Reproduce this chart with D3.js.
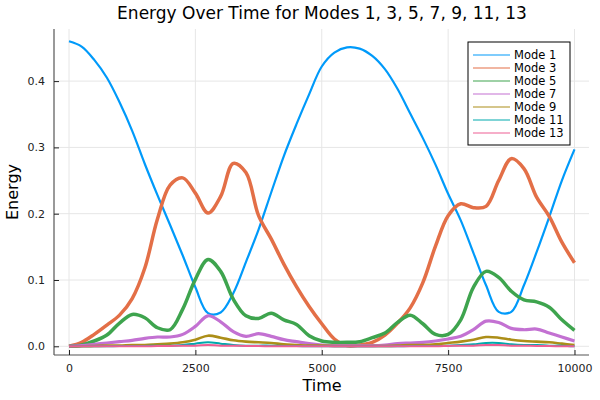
<!DOCTYPE html>
<html>
<head>
<meta charset="utf-8">
<script src="https://cdn.jsdelivr.net/npm/d3@7"></script>
<style>
  body { margin: 0; background: #fff; }
  svg { font-family: "DejaVu Sans", sans-serif; }
</style>
</head>
<body>
<script>
var width = 600,
    height = 400;

// time samples every 250
var times = d3.range(0, 10001, 250);

var mode1 = [0.460, 0.452, 0.432, 0.405, 0.368, 0.325, 0.275, 0.228, 0.183, 0.137,
             0.089, 0.050, 0.051, 0.080, 0.127, 0.176, 0.232, 0.287, 0.335, 0.380,
             0.422, 0.443, 0.451, 0.449, 0.438, 0.418, 0.388, 0.351, 0.314, 0.274,
             0.230, 0.190, 0.141, 0.092, 0.052, 0.052, 0.092, 0.142, 0.195, 0.250, 0.297];
var mode3 = [0.000, 0.006, 0.018, 0.032, 0.047, 0.072, 0.118, 0.192, 0.243, 0.254,
             0.231, 0.201, 0.226, 0.276, 0.262, 0.197, 0.162, 0.124, 0.090, 0.060,
             0.034, 0.011, 0.001, 0.002, 0.006, 0.017, 0.035, 0.058, 0.096, 0.151,
             0.197, 0.215, 0.209, 0.211, 0.250, 0.283, 0.268, 0.225, 0.196, 0.157, 0.126];
var mode5 = [0.000, 0.002, 0.008, 0.017, 0.035, 0.048, 0.043, 0.028, 0.025, 0.056,
             0.101, 0.131, 0.113, 0.071, 0.046, 0.042, 0.050, 0.040, 0.033, 0.016,
             0.008, 0.006, 0.006, 0.007, 0.013, 0.020, 0.036, 0.047, 0.034, 0.018,
             0.018, 0.040, 0.089, 0.113, 0.104, 0.083, 0.070, 0.067, 0.059, 0.040, 0.024];
var mode7 = [0.000, 0.001, 0.003, 0.005, 0.007, 0.009, 0.012, 0.014, 0.014, 0.018,
             0.030, 0.046, 0.037, 0.022, 0.015, 0.019, 0.015, 0.010, 0.007, 0.004,
             0.002, 0.001, 0.001, 0.001, 0.001, 0.002, 0.004, 0.005, 0.006, 0.008,
             0.011, 0.015, 0.025, 0.038, 0.036, 0.027, 0.025, 0.026, 0.020, 0.014, 0.008];
var mode9 = [0.000, 0.000, 0.0005, 0.001, 0.001, 0.002, 0.002, 0.003, 0.004, 0.006,
             0.010, 0.016, 0.013, 0.009, 0.007, 0.006, 0.005, 0.003, 0.002, 0.001,
             0.001, 0.0005, 0.0005, 0.0005, 0.0005, 0.0005, 0.001, 0.002, 0.002, 0.003,
             0.005, 0.007, 0.010, 0.014, 0.013, 0.010, 0.008, 0.007, 0.006, 0.004, 0.002];
var mode11 = [0.000, 0.000, 0.000, 0.000, 0.0005, 0.0005, 0.0005, 0.001, 0.001, 0.002,
              0.004, 0.006, 0.004, 0.002, 0.001, 0.001, 0.001, 0.0005, 0.0005, 0.000,
              0.000, 0.000, 0.000, 0.000, 0.000, 0.000, 0.000, 0.0005, 0.0005, 0.0005,
              0.001, 0.002, 0.003, 0.005, 0.005, 0.003, 0.002, 0.002, 0.001, 0.001, 0.000];
var mode13 = [0.000, 0.000, 0.000, 0.000, 0.000, 0.000, 0.000, 0.0005, 0.0005, 0.001,
              0.001, 0.002, 0.001, 0.001, 0.0005, 0.0005, 0.000, 0.000, 0.000, 0.000,
              0.000, 0.000, 0.000, 0.000, 0.000, 0.000, 0.000, 0.000, 0.000, 0.000,
              0.0005, 0.001, 0.001, 0.002, 0.002, 0.001, 0.001, 0.0005, 0.0005, 0.000, 0.000];

var seriesNames = ["Mode 1", "Mode 3", "Mode 5", "Mode 7", "Mode 9", "Mode 11", "Mode 13"];
var seriesValues = [mode1, mode3, mode5, mode7, mode9, mode11, mode13];
var colors = ["#009AFA", "#E36F47", "#3EA44E", "#C371D2", "#AC8E18", "#00A9AD", "#ED5E93"];
var widths = [2.2, 3.5, 3.5, 3.2, 2.6, 2, 2];

var xTicks = [0, 2500, 5000, 7500, 10000];
var yTicks = [0.0, 0.1, 0.2, 0.3, 0.4];

var plot = {left: 54, right: 589, top: 29, bottom: 355};

var x = d3.scaleLinear()
    .domain([0, 10000])
    .range([69, 574.5]);

var y = d3.scaleLinear()
    .domain([0, 0.4])
    .range([346.3, 81.1]);

var svg = d3.select("body").append("svg")
    .attr("width", width)
    .attr("height", height);

svg.append("defs").append("clipPath")
    .attr("id", "clip")
  .append("rect")
    .attr("x", plot.left)
    .attr("y", plot.top)
    .attr("width", plot.right - plot.left)
    .attr("height", plot.bottom - plot.top);

// grid
svg.append("g").selectAll("line")
    .data(xTicks)
    .enter().append("line")
    .attr("x1", function(d) { return x(d); })
    .attr("x2", function(d) { return x(d); })
    .attr("y1", plot.top)
    .attr("y2", plot.bottom)
    .style("stroke", "#e6e6e6");

svg.append("g").selectAll("line")
    .data(yTicks)
    .enter().append("line")
    .attr("x1", plot.left)
    .attr("x2", plot.right)
    .attr("y1", function(d) { return y(d); })
    .attr("y2", function(d) { return y(d); })
    .style("stroke", "#e6e6e6");

// lines
var line = d3.line()
    .x(function(d, i) { return x(times[i]); })
    .y(function(d) { return y(d); })
    .curve(d3.curveCatmullRom.alpha(0.5));

svg.append("g")
    .attr("clip-path", "url(#clip)")
    .selectAll("path")
    .data(seriesValues)
    .enter().append("path")
    .attr("d", line)
    .style("fill", "none")
    .style("stroke", function(d, i) { return colors[i]; })
    .style("stroke-width", function(d, i) { return widths[i]; })
    .style("stroke-linejoin", "round");

// axes (ticks point inward)
var xAxis = svg.append("g")
    .attr("transform", "translate(0," + plot.bottom + ")")
    .call(d3.axisBottom(x).tickValues(xTicks).tickFormat(d3.format("d")).tickSizeInner(-5).tickSizeOuter(0).tickPadding(9));
xAxis.select(".domain").attr("d", "M" + plot.left + ",0H" + plot.right);

var yAxis = svg.append("g")
    .attr("transform", "translate(" + plot.left + ",0)")
    .call(d3.axisLeft(y).tickValues(yTicks).tickFormat(d3.format(".1f")).tickSizeInner(-5).tickSizeOuter(0).tickPadding(9));
yAxis.select(".domain").attr("d", "M0," + plot.top + "V" + plot.bottom);

svg.selectAll(".domain").style("stroke", "#555").style("stroke-width", 1.2);
svg.selectAll(".tick line").style("stroke", "#222");
svg.selectAll(".tick text")
    .style("font-size", "11px")
    .style("font-family", "DejaVu Sans")
    .style("fill", "#222");

// titles
svg.append("text")
    .attr("x", 322)
    .attr("y", 19)
    .attr("text-anchor", "middle")
    .style("font-size", "17px")
    .text("Energy Over Time for Modes 1, 3, 5, 7, 9, 11, 13");

svg.append("text")
    .attr("x", 322)
    .attr("y", 391)
    .attr("text-anchor", "middle")
    .style("font-size", "16px")
    .text("Time");

svg.append("text")
    .attr("transform", "translate(18,192) rotate(-90)")
    .attr("text-anchor", "middle")
    .style("font-size", "16px")
    .text("Energy");

// legend
var legend = svg.append("g");

legend.append("rect")
    .attr("x", 468)
    .attr("y", 42)
    .attr("width", 102)
    .attr("height", 103)
    .style("fill", "#fff")
    .style("stroke", "#000")
    .style("stroke-width", 1);

var item = legend.selectAll(".item")
    .data(seriesNames)
    .enter().append("g")
    .attr("class", "item")
    .attr("transform", function(d, i) { return "translate(0," + (55 + i * 13) + ")"; });

item.append("line")
    .attr("x1", 473)
    .attr("x2", 510)
    .style("stroke", function(d, i) { return colors[i]; })
    .style("stroke-width", 1.2);

item.append("text")
    .attr("x", 514)
    .attr("y", 4)
    .style("font-size", "11.5px")
    .text(function(d) { return d; });
</script>
</body>
</html>
